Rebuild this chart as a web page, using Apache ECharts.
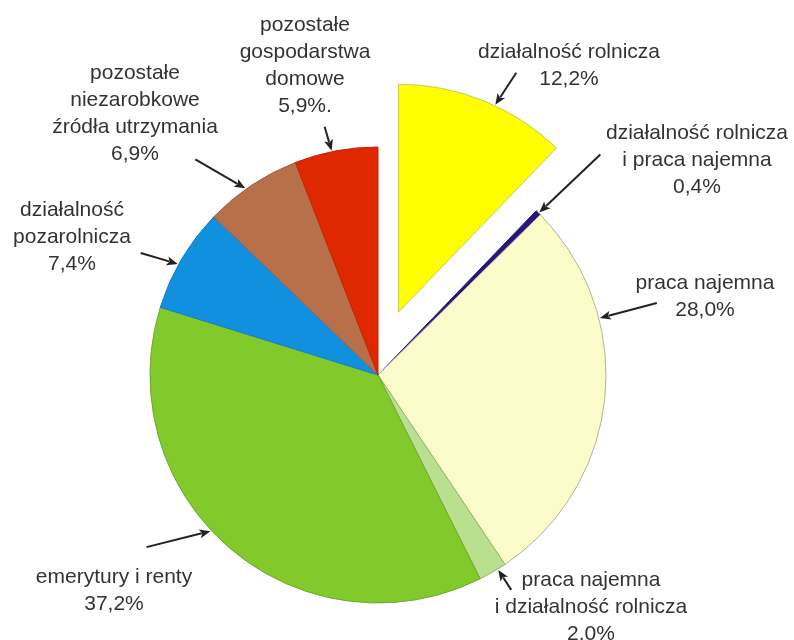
<!DOCTYPE html>
<html>
<head>
<meta charset="utf-8">
<script src="https://cdn.jsdelivr.net/npm/echarts@6/dist/echarts.min.js"></script>
<style>
  html, body { margin: 0; padding: 0; background: #fff; }
  #chart { width: 794px; height: 640px; }
</style>
</head>
<body>
<div id="chart"></div>
<script>
// Slices, clockwise from 12 o'clock
const categories = [
  "działalność rolnicza",
  "działalność rolnicza\ni praca najemna",
  "praca najemna",
  "praca najemna\ni działalność rolnicza",
  "emerytury i renty",
  "działalność\npozarolnicza",
  "pozostałe\nniezarobkowe\nźródła utrzymania",
  "pozostałe\ngospodarstwa\ndomowe"
];
const values = [12.2, 0.4, 28.0, 2.0, 37.2, 7.4, 6.9, 5.9];
const valueLabels = ["12,2%", "0,4%", "28,0%", "2.0%", "37,2%", "7,4%", "6,9%", "5,9%."];

const colors = ["#ffff00", "#2a1480", "#fcfcca", "#b8e08e", "#82c92c", "#1190e0", "#b8704a", "#e02800"];
const borderColors = ["#c8c860", "#2a1480", "#b4b496", "#90b870", "#70a830", "#1080c8", "#a06040", "#c82000"];

// label centres and arrow placement (fraction along slice, tail offset from tip)
const labelPos = [[569, 66], [697, 160], [705, 297], [591, 607], [114, 591], [72, 237], [135, 114], [305, 66]];
const arrowAt = [0.57, 0.6, 0.3, 0.3, 0.55, 0.44, 0.43, 0.45];
const arrowTail = [[21, -32], [61, -58], [57, -15], [13, 20], [-64, 16], [-37, -11], [-50, -29], [-7, -24]];

const CX = 378, CY = 375, R = 228;
// the first slice is pulled out of the pie
const EXPLODED = 0, EXPLODE = 66, EXPLODE_DIR = 18;
const ex = EXPLODE * Math.sin((EXPLODE_DIR * Math.PI) / 180);
const ey = -EXPLODE * Math.cos((EXPLODE_DIR * Math.PI) / 180);

const chart = echarts.init(document.getElementById("chart"), null, { renderer: "canvas" });

// build arrows from the slice angles
const total = values.reduce((a, b) => a + b, 0);
const graphics = [];
let acc = 0;
values.forEach((v, i) => {
  const a0 = (acc / total) * 360;
  const span = (v / total) * 360;
  acc += v;
  const th = ((a0 + span * arrowAt[i]) * Math.PI) / 180;
  let tx = CX + (R + 1) * Math.sin(th);
  let ty = CY - (R + 1) * Math.cos(th);
  if (i === EXPLODED) {
    tx += ex;
    ty += ey;
  }
  const sx = tx + arrowTail[i][0];
  const sy = ty + arrowTail[i][1];
  const len = Math.hypot(tx - sx, ty - sy);
  const ux = (tx - sx) / len, uy = (ty - sy) / len;
  const hl = 11, hw = 4.5;
  const bx = tx - ux * hl, by = ty - uy * hl;
  graphics.push({
    type: "line",
    silent: true,
    shape: { x1: sx, y1: sy, x2: bx + ux * 2, y2: by + uy * 2 },
    style: { stroke: "#222", lineWidth: 2 }
  });
  graphics.push({
    type: "polygon",
    silent: true,
    shape: {
      points: [
        [tx, ty],
        [bx - uy * hw, by + ux * hw],
        [bx + ux * 2.5, by + uy * 2.5],
        [bx + uy * hw, by - ux * hw]
      ]
    },
    style: { fill: "#222" }
  });
});

const labelStyle = {
  show: true,
  position: "outside",
  formatter: (p) => p.name + "\n" + valueLabels[p.dataIndex],
  fontFamily: "Liberation Sans, Arial, sans-serif",
  fontSize: 21,
  lineHeight: 27,
  color: "#333",
  align: "center"
};

const labelLayout = (params) => {
  const pos = labelPos[params.dataIndex];
  return { x: pos[0], y: pos[1], align: "center", verticalAlign: "middle" };
};

const hidden = { color: "transparent", borderWidth: 0 };

// one pie for the body, one shifted pie that only shows the pulled-out slice
const makeSeries = (showIdx, center) => ({
  type: "pie",
  center: center,
  radius: R,
  startAngle: 90,
  clockwise: true,
  avoidLabelOverlap: false,
  emphasis: { disabled: true },
  label: labelStyle,
  labelLine: { show: false },
  labelLayout: labelLayout,
  data: categories.map((name, i) => ({
    name: name,
    value: values[i],
    label: { show: showIdx(i) },
    itemStyle: showIdx(i)
      ? { color: colors[i], borderColor: borderColors[i], borderWidth: 1 }
      : hidden
  }))
});

const option = {
  animation: false,
  backgroundColor: "#fff",
  graphic: graphics,
  series: [
    makeSeries((i) => i !== EXPLODED, [CX, CY]),
    makeSeries((i) => i === EXPLODED, [CX + ex, CY + ey])
  ]
};

chart.setOption(option);
</script>
</body>
</html>
